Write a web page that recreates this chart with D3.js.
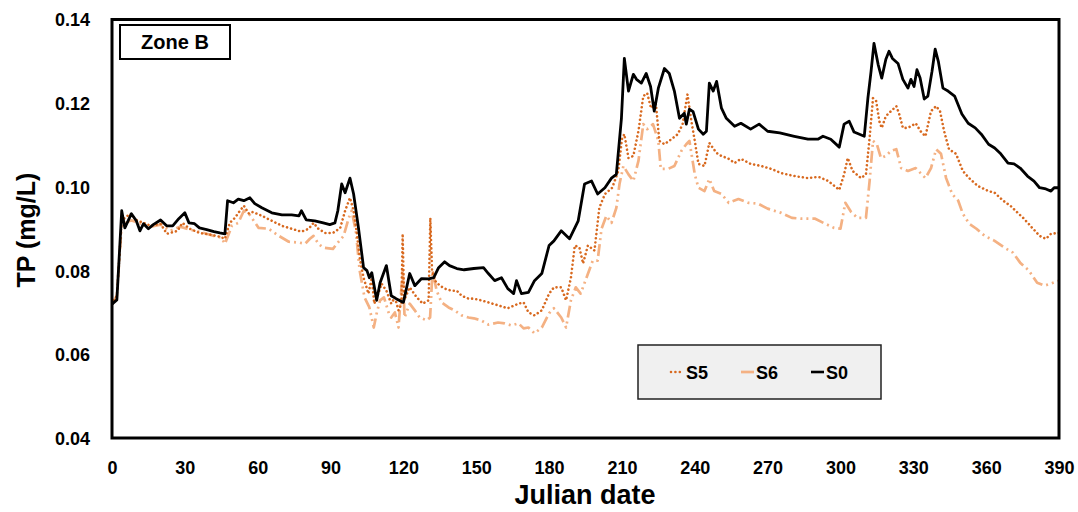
<!DOCTYPE html>
<html>
<head>
<meta charset="utf-8">
<script src="https://cdn.jsdelivr.net/npm/d3@7"></script>
<style>
  html, body { margin: 0; padding: 0; background: #fff; }
  svg text { font-family: "Liberation Sans", Arial, sans-serif; font-weight: bold; fill: #000; }
</style>
</head>
<body>
<svg id="chart" width="1078" height="512"></svg>
<script>
// Total phosphorus, Zone B — three scenarios over Julian days
const s0Days = [0,2,4,5.3,8,10,11.5,13,15,17,20,22.5,25,27.5,30,31.7,34,36,39,42,44.4,46.5,47.6,50,52,54.3,56.8,58.8,61.7,65.8,70,74,77,78,80,83.5,87,89.7,91.8,93,94.6,96,98,99.5,101.5,103.6,105,106,107,109,110.4,113,115,117,120,122.6,124.7,127.5,130.4,132.5,134.5,137,139,142,145,149,153,155,157.6,160.4,163,165.4,166.6,168.6,171.5,174,177,180,182,185,188.4,192,194.6,197.5,200,203,205.7,207.7,209.8,211,212.7,214.7,216,218,220,221.8,223.3,225,227.5,229.5,231.6,233.7,235.7,236.5,237.8,239.3,241.5,243.5,244.8,246,247.6,249,251,253,256.4,259,263,266.5,270,275,281,286.6,290.7,292.8,296,299.5,301.5,303.6,305.6,309.8,311.3,312.6,313.8,315.5,317,318.7,320,321.4,323.7,325.7,327.8,329,330.3,331.5,332.8,334.5,336,337.7,339,340.3,342.2,344.3,347,350,352.6,355.5,358,361,363.5,366,369,371.5,374,377,379.7,382,384.6,386.7,388,390];
const s0Values = [0.072,0.073,0.0943,0.0902,0.0936,0.0919,0.0895,0.0912,0.0900,0.0910,0.0921,0.0907,0.0907,0.0924,0.0938,0.0914,0.0912,0.0902,0.0898,0.0893,0.0890,0.0888,0.0967,0.0962,0.0971,0.0967,0.0974,0.0960,0.0950,0.0938,0.0933,0.0933,0.0931,0.0943,0.0921,0.0919,0.0914,0.0910,0.0914,0.0943,0.1007,0.0986,0.1021,0.0983,0.0902,0.0807,0.0800,0.0783,0.0795,0.0729,0.0771,0.0812,0.0740,0.0733,0.0724,0.0793,0.0764,0.0781,0.0780,0.0783,0.0807,0.0821,0.0812,0.0805,0.0802,0.0805,0.0807,0.0793,0.0776,0.0783,0.0757,0.0745,0.0776,0.0745,0.0748,0.0776,0.0793,0.0860,0.0871,0.0895,0.0876,0.0919,0.1007,0.1014,0.0983,0.0998,0.1021,0.1030,0.1164,0.1307,0.1229,0.1269,0.1257,0.1248,0.1271,0.1240,0.1181,0.1236,0.1283,0.1271,0.1229,0.1164,0.1176,0.1150,0.1186,0.1180,0.1138,0.1126,0.1133,0.1248,0.1229,0.1252,0.1188,0.1164,0.1145,0.1152,0.1138,0.1150,0.1133,0.1129,0.1121,0.1114,0.1114,0.1121,0.1114,0.1095,0.1150,0.1157,0.1131,0.1121,0.1212,0.1276,0.1343,0.1293,0.1260,0.1305,0.1324,0.1307,0.1295,0.1257,0.1236,0.1257,0.1240,0.1280,0.1260,0.1210,0.1217,0.1276,0.1329,0.1300,0.1236,0.1229,0.1217,0.1174,0.1152,0.1141,0.1126,0.1102,0.1093,0.1079,0.1057,0.1055,0.1045,0.1026,0.1014,0.0998,0.0995,0.0990,0.0998,0.0998];

const s5Days = [0,2,4,7.5,10,13,16,20,22.6,27,29,32,36,40.4,44.4,46.5,48.5,50.6,52.7,54.3,56.4,58,61.7,65.8,70,74,78,81,83,85,87.7,91,94,96,98,99.5,100.8,102,103.6,105.6,107,108,109.7,111,113,115,116.5,118,119.2,119.7,120.3,122.6,125.5,128,130.4,131.1,131.8,133,135,137,139.8,142,144,146.8,149,152,155,159,163,167.4,169.5,171.5,174,177,180,182,185,187,189,190.6,192.5,194,196,198.7,200.7,203,206,208.5,210,211,212.7,214.7,216.8,218.8,220.4,222,224,225.4,227.5,230.4,233,235,237,238.6,240,241.5,244,246,249,251,254,256.4,259,263,267.4,271.5,275.6,281,286.6,291,295,299.5,301.5,303,305,308.5,310.5,312,313.4,314.7,316,317,318.7,320.8,323,324.2,325.7,327.8,331,333,335,337.3,339.4,341,342.7,344.7,347.6,350.4,353,356.6,361,363.5,367,370,373,375.6,379,382,384.6,386.7,390];
const s5Values = [0.072,0.074,0.0920,0.0936,0.0921,0.0914,0.0907,0.0912,0.0888,0.0895,0.0914,0.0900,0.0890,0.0886,0.0881,0.0876,0.0914,0.0926,0.0943,0.0955,0.0936,0.0940,0.0931,0.0919,0.0907,0.0900,0.0893,0.0900,0.0914,0.0900,0.0890,0.0890,0.0902,0.0943,0.0974,0.0943,0.0890,0.0831,0.0783,0.0745,0.0783,0.0721,0.0745,0.0769,0.0752,0.0721,0.0736,0.0705,0.0720,0.0888,0.0729,0.0760,0.0736,0.0721,0.0729,0.0926,0.0800,0.0776,0.0764,0.0757,0.0752,0.0752,0.0740,0.0733,0.0733,0.0729,0.0724,0.0717,0.0710,0.0721,0.0724,0.0700,0.0693,0.0705,0.0745,0.0760,0.0760,0.0729,0.0783,0.0860,0.0855,0.0817,0.0860,0.0848,0.0950,0.0983,0.0998,0.1038,0.1114,0.1126,0.1069,0.1074,0.1133,0.1217,0.1224,0.1188,0.1198,0.1110,0.1102,0.1114,0.1126,0.1150,0.1221,0.1157,0.1110,0.1055,0.1050,0.1105,0.1081,0.1074,0.1067,0.1057,0.1067,0.1055,0.1050,0.1043,0.1033,0.1026,0.1021,0.1024,0.1014,0.0993,0.1030,0.1069,0.1038,0.1021,0.1030,0.1117,0.1212,0.1205,0.1157,0.1141,0.1169,0.1181,0.1193,0.1174,0.1141,0.1141,0.1152,0.1133,0.1121,0.1181,0.1193,0.1181,0.1133,0.1090,0.1079,0.1038,0.1021,0.1002,0.0990,0.0986,0.0967,0.0955,0.0938,0.0924,0.0902,0.0883,0.0876,0.0888,0.0890];

const s6Days = [0,2,4,8,12,16,20,24,28,32,37.8,42,45,46.5,49.4,52,54.3,56.4,58.4,60.4,64.5,68.7,72.8,77,79.5,81.5,83,85,87,91,93,95.4,97.5,98.7,100.4,102,104,106,107.8,109,110.4,112,114,115,116.5,118,119.7,120.5,122.6,124.7,126.7,129.6,131,132,133.7,135.7,138.6,141,144,146.8,149,152,155,159,161.7,164.5,167.4,169.5,171.5,174,177,180,182,185,187,189,191,193,195.4,198,200,201.6,203.6,205.7,207.7,209,210.6,212.7,214.7,216.8,218.8,220.4,222.8,225,226,229,231.6,234.5,236.5,237.8,240,241.5,244,246,248,251,254,258,262,266,270,275.6,280,284,289.6,293,297.4,300,302,304.4,307,310.5,312,313.4,315,316.7,318.7,320.8,323,325,327.8,331,333,335,337.3,339.4,341.4,343.5,346,348.5,350.4,353,356,359.4,363.5,367.5,371,374,377.6,381,384,386.7,390];
const s6Values = [0.072,0.074,0.0910,0.0920,0.0912,0.0905,0.0910,0.0895,0.0905,0.0898,0.0890,0.0883,0.0879,0.0864,0.0907,0.0914,0.0943,0.0936,0.0919,0.0902,0.0900,0.0883,0.0869,0.0867,0.0864,0.0876,0.0883,0.0864,0.0855,0.0852,0.0867,0.0883,0.0926,0.0943,0.0895,0.0800,0.0736,0.0712,0.0664,0.0698,0.0729,0.0736,0.0698,0.0688,0.0700,0.0664,0.0800,0.0688,0.0721,0.0705,0.0688,0.0681,0.0688,0.0800,0.0752,0.0724,0.0712,0.0705,0.0693,0.0688,0.0686,0.0681,0.0671,0.0676,0.0674,0.0669,0.0674,0.0662,0.0664,0.0650,0.0664,0.0698,0.0710,0.0688,0.0664,0.0729,0.0760,0.0745,0.0783,0.0824,0.0824,0.0900,0.0931,0.0914,0.0950,0.1007,0.1050,0.1030,0.1014,0.1062,0.1150,0.1138,0.1150,0.1110,0.1043,0.1043,0.1050,0.1086,0.1102,0.1110,0.1030,0.0998,0.0990,0.1019,0.0990,0.0983,0.0962,0.0971,0.0962,0.0960,0.0948,0.0938,0.0926,0.0924,0.0924,0.0914,0.0902,0.0900,0.0962,0.0940,0.0926,0.0926,0.1014,0.1110,0.1102,0.1069,0.1074,0.1086,0.1090,0.1045,0.1038,0.1045,0.1033,0.1021,0.1045,0.1090,0.1079,0.1021,0.0983,0.0967,0.0936,0.0912,0.0900,0.0883,0.0871,0.0855,0.0843,0.0819,0.0800,0.0771,0.0764,0.0769,0.0776];

const xTicks = [0,30,60,90,120,150,180,210,240,270,300,330,360,390];
const yTicks = [0.04,0.06,0.08,0.10,0.12,0.14];
const seriesNames = ["S5","S6","S0"];

const svg = d3.select("#chart");
const plot = { left: 112, right: 1059, top: 19.5, bottom: 438 };

const x = d3.scaleLinear().domain([0, 390]).range([plot.left, plot.right]);
const y = d3.scaleLinear().domain([0.04, 0.14]).range([plot.bottom, plot.top]);

svg.append("rect").attr("width", 1078).attr("height", 512).attr("fill", "#fff");

const styles = {
  S5: { color: "#D8691F", width: 2.6, dash: "0.01 4.2", cap: "round" },
  S6: { color: "#F4B183", width: 2.7, dash: "12 4 2 4 2 4", cap: "butt" },
  S0: { color: "#000000", width: 2.8, dash: null, cap: "butt" }
};

const zip = (ds, vs) => ds.map((d, i) => [d, vs[i]]);
const series = [
  { name: "S6", data: zip(s6Days, s6Values) },
  { name: "S5", data: zip(s5Days, s5Values) },
  { name: "S0", data: zip(s0Days, s0Values) }
];

svg.append("clipPath").attr("id", "clip")
  .append("rect")
  .attr("x", plot.left).attr("y", plot.top)
  .attr("width", plot.right - plot.left).attr("height", plot.bottom - plot.top);

const line = d3.line().x(d => x(d[0])).y(d => y(d[1]));

const lines = svg.append("g").attr("clip-path", "url(#clip)");
series.forEach(s => {
  const st = styles[s.name];
  lines.append("path")
    .datum(s.data)
    .attr("d", line)
    .attr("fill", "none")
    .attr("stroke", st.color)
    .attr("stroke-width", st.width)
    .attr("stroke-linejoin", "round")
    .attr("stroke-linecap", st.cap)
    .attr("stroke-dasharray", st.dash);
});

// plot frame
svg.append("rect")
  .attr("x", plot.left).attr("y", plot.top)
  .attr("width", plot.right - plot.left).attr("height", plot.bottom - plot.top)
  .attr("fill", "none").attr("stroke", "#000").attr("stroke-width", 3);

// axes (labels only)
const xAxis = d3.axisBottom(x).tickValues(xTicks).tickSize(0).tickPadding(0).tickFormat(d3.format("d"));
const gx = svg.append("g").attr("transform", `translate(0, 474)`).call(xAxis);
gx.select(".domain").remove();
gx.selectAll("text").attr("dy", 0).style("font-size", "18px")
  .style("font-family", "'Liberation Sans', Arial, sans-serif").style("font-weight", "bold");

const yAxis = d3.axisLeft(y).tickValues(yTicks).tickSize(0).tickPadding(0).tickFormat(d3.format(".2f"));
const gy = svg.append("g").attr("transform", `translate(90, 0)`).call(yAxis);
gy.select(".domain").remove();
gy.selectAll("text").attr("dy", "0.36em").style("font-size", "18px")
  .style("font-family", "'Liberation Sans', Arial, sans-serif").style("font-weight", "bold");

// axis titles
svg.append("text")
  .attr("x", 585).attr("y", 504)
  .attr("text-anchor", "middle")
  .style("font-size", "27px")
  .text("Julian date");

svg.append("text")
  .attr("transform", "translate(35, 230) rotate(-90)")
  .attr("text-anchor", "middle")
  .style("font-size", "25px")
  .text("TP (mg/L)");

// zone label
svg.append("rect")
  .attr("x", 120).attr("y", 25).attr("width", 110).attr("height", 34)
  .attr("fill", "#fff").attr("stroke", "#000").attr("stroke-width", 2);
svg.append("text")
  .attr("x", 175).attr("y", 49)
  .attr("text-anchor", "middle")
  .style("font-size", "20px")
  .text("Zone B");

// legend
const legend = svg.append("g");
legend.append("rect")
  .attr("x", 638).attr("y", 345).attr("width", 243).attr("height", 54)
  .attr("fill", "#F0F0F0").attr("stroke", "#222").attr("stroke-width", 1.5);
const legendX = { S5: 671, S6: 741, S0: 811 };
seriesNames.forEach(name => {
  const st = styles[name];
  const lx = legendX[name];
  legend.append("line")
    .attr("x1", lx).attr("x2", lx + 13).attr("y1", 372).attr("y2", 372)
    .attr("stroke", st.color).attr("stroke-width", name === "S0" ? 2.6 : st.width)
    .attr("stroke-linecap", st.cap)
    .attr("stroke-dasharray", name === "S5" ? "0.01 4.4" : null);
  legend.append("text")
    .attr("x", lx + 15).attr("y", 378.5)
    .style("font-size", "18px")
    .text(name);
});
</script>
</body>
</html>
